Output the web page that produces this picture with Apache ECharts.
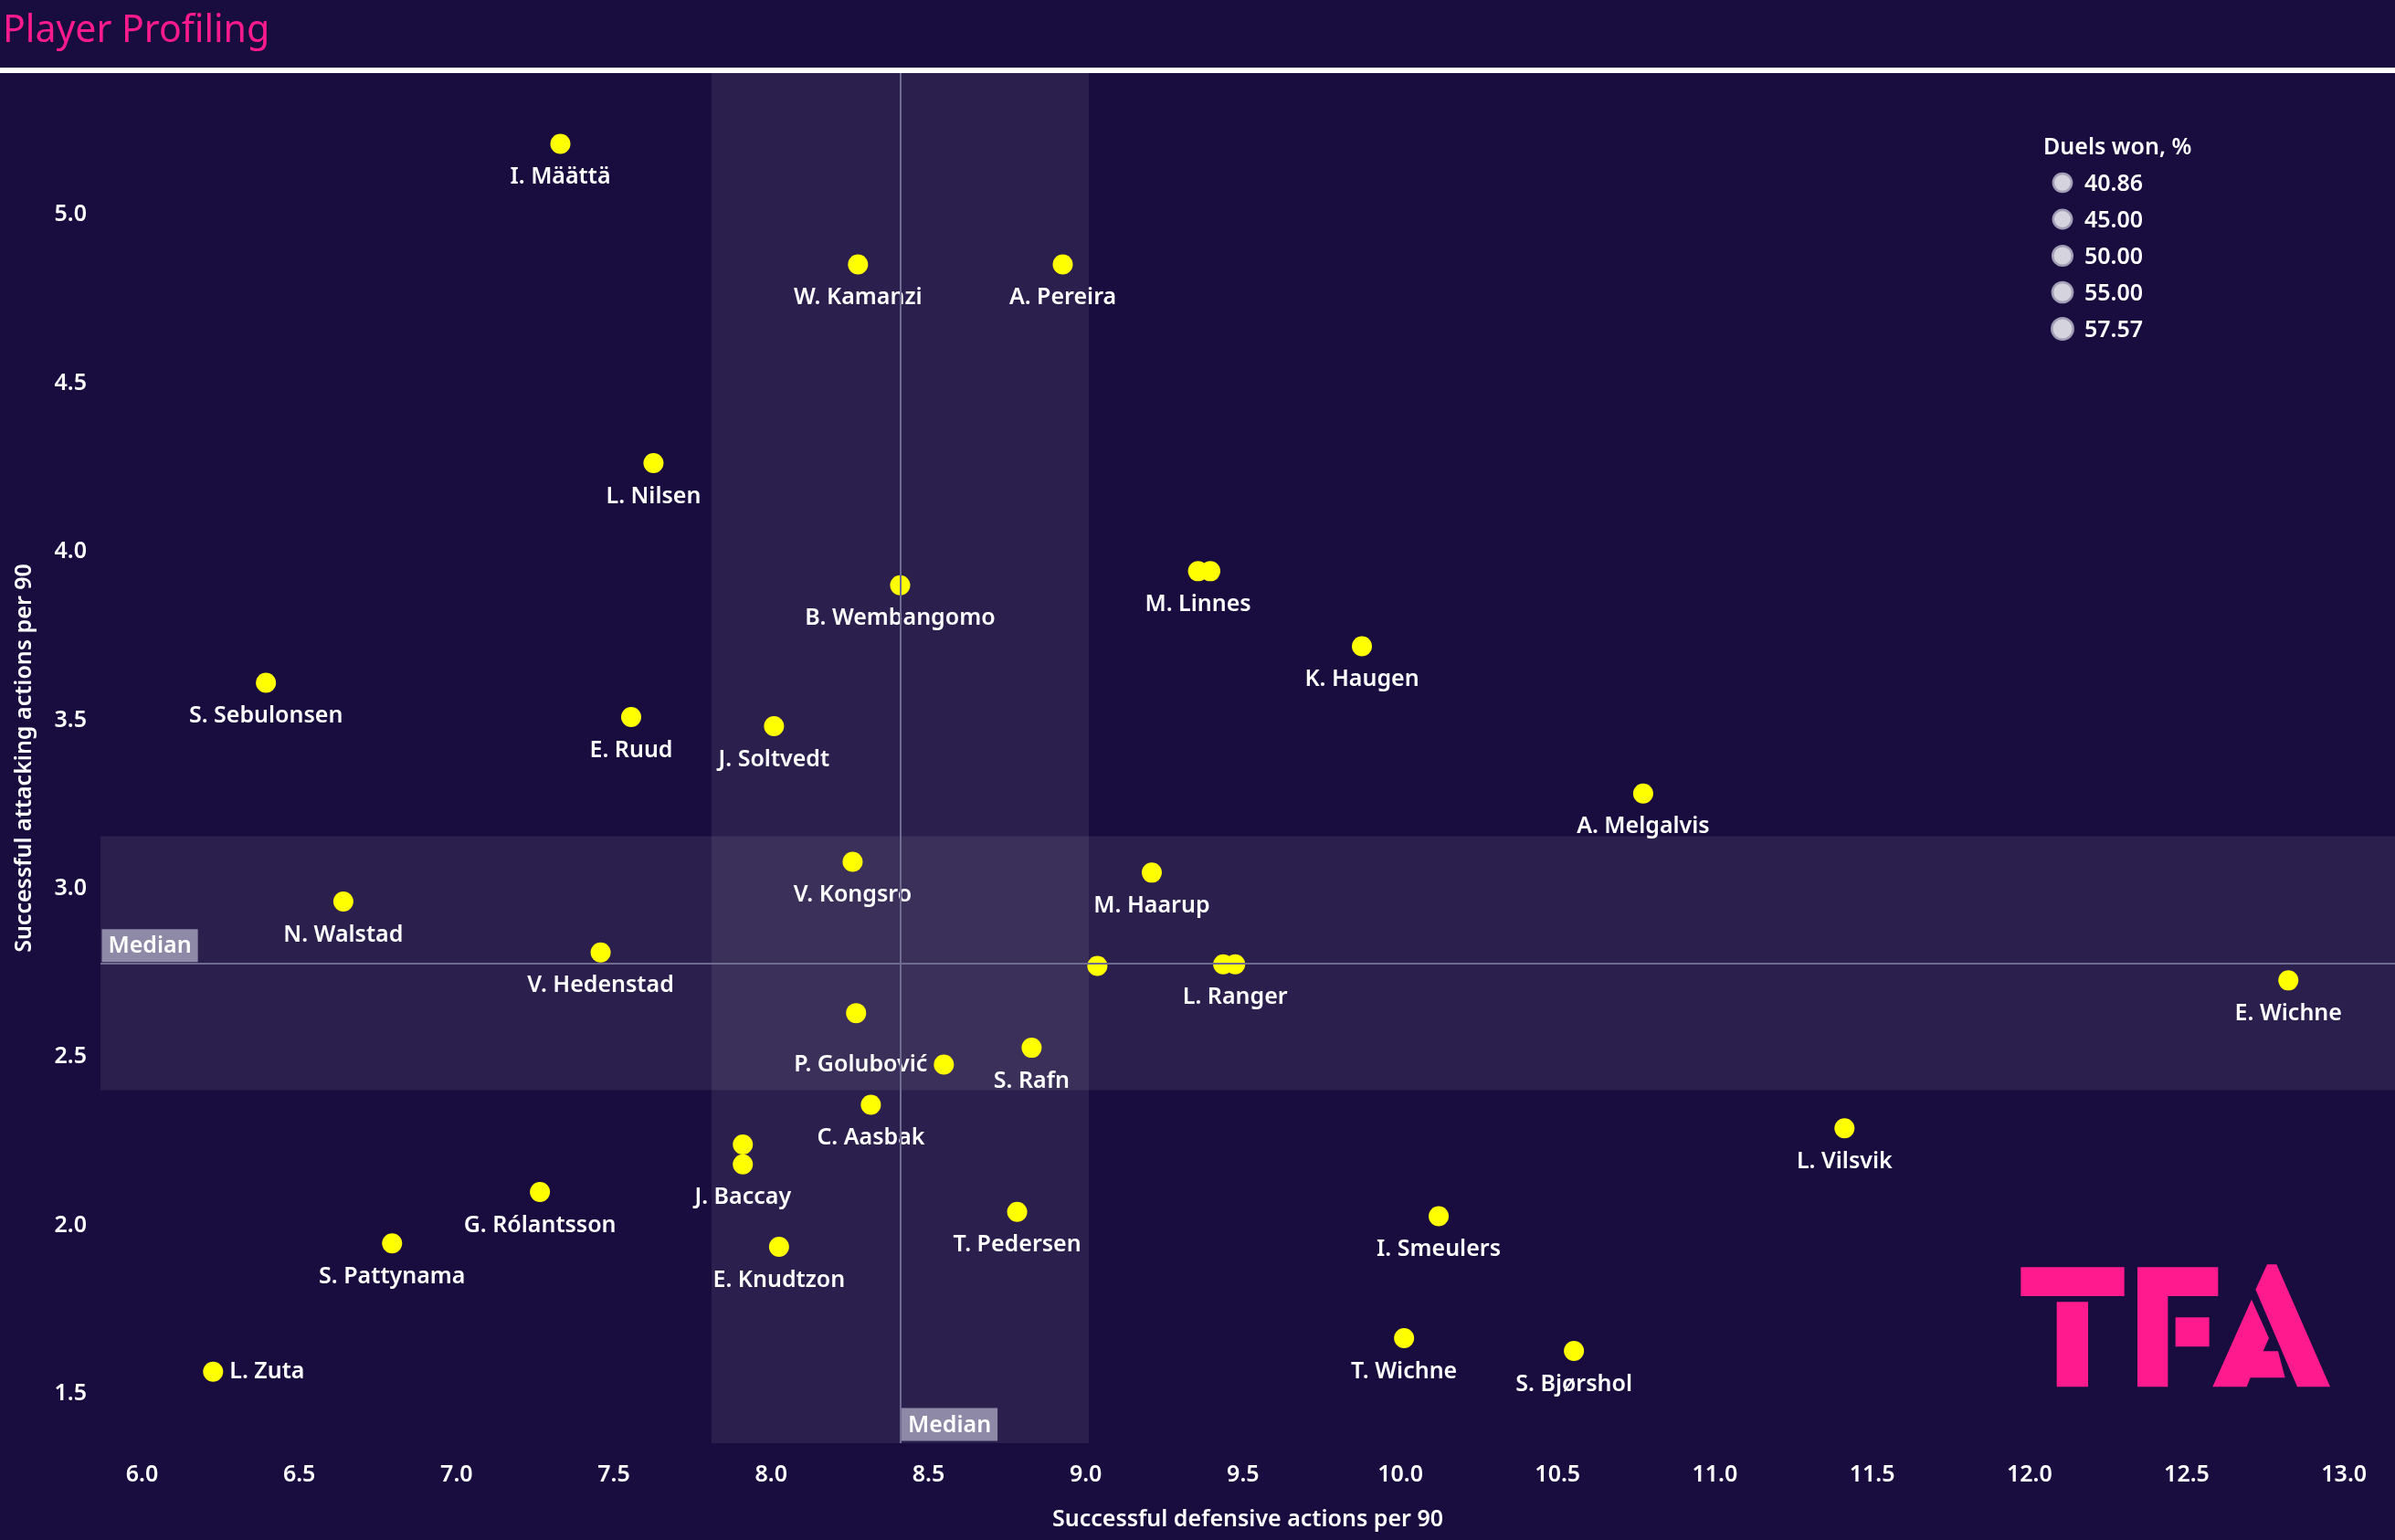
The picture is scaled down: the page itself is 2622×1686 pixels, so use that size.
<!DOCTYPE html>
<html>
<head>
<meta charset="utf-8">
<script src="https://cdn.jsdelivr.net/npm/echarts@6/dist/echarts.min.js"></script>
<style>
html,body{margin:0;padding:0;background:#180d3e;}
#c{width:2622px;height:1686px;}
</style>
</head>
<body>
<div id="c"></div>
<script>
// ---------------- DATA ----------------
const players = [
  'I. Määttä','W. Kamanzi','A. Pereira','L. Nilsen','B. Wembangomo',
  'M. Linnes','','K. Haugen','S. Sebulonsen','E. Ruud',
  'J. Soltvedt','A. Melgalvis','V. Kongsro','M. Haarup','N. Walstad',
  'V. Hedenstad','','','L. Ranger','E. Wichne',
  '','S. Rafn','P. Golubović','C. Aasbak','L. Vilsvik',
  '','J. Baccay','G. Rólantsson','T. Pedersen','I. Smeulers',
  'S. Pattynama','E. Knudtzon','T. Wichne','S. Bjørshol','L. Zuta'
];
const defActions = [
  7.330, 8.276, 8.927, 7.626, 8.410,
  9.357, 9.396, 9.878, 6.394, 7.555,
  8.009, 10.772, 8.259, 9.210, 6.640,
  7.458, 9.037, 9.437, 9.475, 12.823,
  8.270, 8.828, 8.549, 8.317, 11.412,
  7.910, 7.910, 7.265, 8.782, 10.122,
  6.795, 8.025, 10.012, 10.552, 6.226
];
const attActions = [
  5.203, 4.845, 4.845, 4.255, 3.892,
  3.934, 3.934, 3.711, 3.603, 3.501,
  3.474, 3.274, 3.071, 3.039, 2.953,
  2.802, 2.762, 2.767, 2.767, 2.719,
  2.622, 2.519, 2.469, 2.350, 2.280,
  2.232, 2.173, 2.091, 2.032, 2.019,
  1.938, 1.928, 1.657, 1.619, 1.557
];
const xTicks = [6.0, 6.5, 7.0, 7.5, 8.0, 8.5, 9.0, 9.5, 10.0, 10.5, 11.0, 11.5, 12.0, 12.5, 13.0];
const yTicks = [1.5, 2.0, 2.5, 3.0, 3.5, 4.0, 4.5, 5.0];
const xRange = [5.868, 13.162];
const yRange = [1.345, 5.413];
const medianDef = 8.41;
const medianAtt = 2.767;
const bandDef = [7.81, 9.01];
const bandAtt = [2.393, 3.147];
const duelsLegend = ['40.86', '45.00', '50.00', '55.00', '57.57'];
const duelsLegendRadius = [11.3, 11.4, 12, 12.3, 12.9];

// ---------------- STYLE ----------------
const FONT = '"Noto Sans", "Open Sans", sans-serif';
const BG = '#180d3e';
const PINK = '#ff1a8e';
const labelSide = { 'L. Zuta': 'right', 'P. Golubović': 'left' };

const scatterData = players.map((n, i) => {
  const side = labelSide[n] || 'bottom';
  return {
    name: n,
    value: [defActions[i], attActions[i]],
    label: { position: side, distance: side === 'bottom' ? 13 : 7 }
  };
});

const medianLabel = {
  show: true,
  formatter: 'Median',
  position: [0, 0],
  align: 'left',
  verticalAlign: 'bottom',
  offset: [2, -2],
  color: '#ffffff',
  fontFamily: FONT,
  fontSize: 25,
  fontWeight: 600,
  lineHeight: 30,
  backgroundColor: '#8f89a8',
  padding: [4, 7, 2, 7]
};

// TFA logo polygons
const L = (zx, zy) => [2180 + zx / 3, 1350 + zy / 3];
const logoShapes = [
  [L(97,112), L(437,112), L(437,207), L(97,207)],
  [L(215,226), L(318,226), L(318,505), L(215,505)],
  [L(480,112), L(745,112), L(745,207), L(580,207), L(580,505), L(480,505)],
  [L(605,277), L(716,277), L(716,373), L(605,373)],
  [L(868,185), L(906,103), L(937,103), L(1113,505), L(1005,505)],
  [L(727,505), L(855,218), L(912,345), L(893,388), L(942,388), L(965,475), L(851,475), L(839,505)]
];

const graphics = [
  { type: 'rect', shape: { x: 0, y: 74, width: 2622, height: 6 }, style: { fill: '#ffffff' }, z: 10 },
  { type: 'text', x: 3, y: 34, style: { text: 'Player Profiling', fill: PINK, font: '400 41px ' + FONT, textVerticalAlign: 'middle', verticalAlign: 'middle' }, z: 10 },
  { type: 'text', x: 2237, y: 162, style: { text: 'Duels won, %', fill: '#ffffff', font: '600 25px ' + FONT, textVerticalAlign: 'middle', verticalAlign: 'middle' }, z: 10 }
];
duelsLegend.forEach((t, i) => {
  const cy = 200 + i * 40;
  graphics.push({ type: 'circle', shape: { cx: 2258, cy: cy, r: duelsLegendRadius[i] - 1.2 }, style: { fill: '#d5d3de', stroke: '#a29eb6', lineWidth: 2.5 }, z: 10 });
  graphics.push({ type: 'text', x: 2282, y: cy + 2, style: { text: t, fill: '#ffffff', font: '600 25px ' + FONT, textVerticalAlign: 'middle', verticalAlign: 'middle' }, z: 10 });
});
logoShapes.forEach(pts => {
  graphics.push({ type: 'polygon', shape: { points: pts }, style: { fill: PINK }, z: 10 });
});

const chart = echarts.init(document.getElementById('c'), null, { renderer: 'canvas' });
chart.setOption({
  backgroundColor: BG,
  animation: false,
  textStyle: { fontFamily: FONT },
  grid: { left: 110, right: 0, top: 80, bottom: 106, containLabel: false, outerBoundsMode: 'none' },
  xAxis: {
    type: 'value',
    min: xRange[0], max: xRange[1],
    name: 'Successful defensive actions per 90',
    nameLocation: 'middle',
    nameGap: 71,
    nameTextStyle: { color: '#ffffff', fontSize: 25, fontWeight: 600, fontFamily: FONT },
    axisLine: { show: false }, axisTick: { show: false }, splitLine: { show: false },
    axisLabel: {
      customValues: xTicks,
      formatter: v => v.toFixed(1),
      color: '#ffffff', fontSize: 25, fontWeight: 600, fontFamily: FONT, margin: 22
    }
  },
  yAxis: {
    type: 'value',
    min: yRange[0], max: yRange[1],
    name: 'Successful attacking actions per 90',
    nameLocation: 'middle',
    nameGap: 71,
    nameTextStyle: { color: '#ffffff', fontSize: 25, fontWeight: 600, fontFamily: FONT },
    axisLine: { show: false }, axisTick: { show: false }, splitLine: { show: false },
    axisLabel: {
      customValues: yTicks,
      formatter: v => v.toFixed(1),
      verticalAlign: 'top',
      lineHeight: 6,
      color: '#ffffff', fontSize: 25, fontWeight: 600, fontFamily: FONT, margin: 15
    }
  },
  graphic: { elements: graphics },
  series: [
    {
      type: 'scatter',
      name: 'bands',
      data: [],
      silent: true,
      markArea: {
        silent: true,
        itemStyle: { color: 'rgba(255,255,255,0.08)' },
        label: { show: false },
        data: [
          [{ xAxis: bandDef[0] }, { xAxis: bandDef[1] }],
          [{ yAxis: bandAtt[0] }, { yAxis: bandAtt[1] }]
        ]
      },
      markLine: {
        silent: true,
        symbol: ['none', 'none'],
        label: { show: false },
        lineStyle: { color: '#706b90', width: 2, type: 'solid' },
        data: [{ xAxis: medianDef }, { yAxis: medianAtt }]
      },
      markPoint: {
        silent: true,
        symbol: 'rect',
        symbolSize: 1,
        itemStyle: { color: 'rgba(0,0,0,0)' },
        data: [
          { coord: [medianDef, yRange[0]], label: medianLabel },
          { coord: [xRange[0], medianAtt], label: medianLabel }
        ],
        z: 5
      }
    },
    {
      type: 'scatter',
      name: 'players',
      symbol: 'circle',
      symbolSize: 22,
      itemStyle: { color: '#ffff00', opacity: 1 },
      z: 3,
      label: {
        show: true,
        formatter: p => p.name,
        color: '#ffffff',
        fontFamily: FONT,
        fontSize: 25,
        fontWeight: 600
      },
      data: scatterData
    }
  ]
});
</script>
</body>
</html>
